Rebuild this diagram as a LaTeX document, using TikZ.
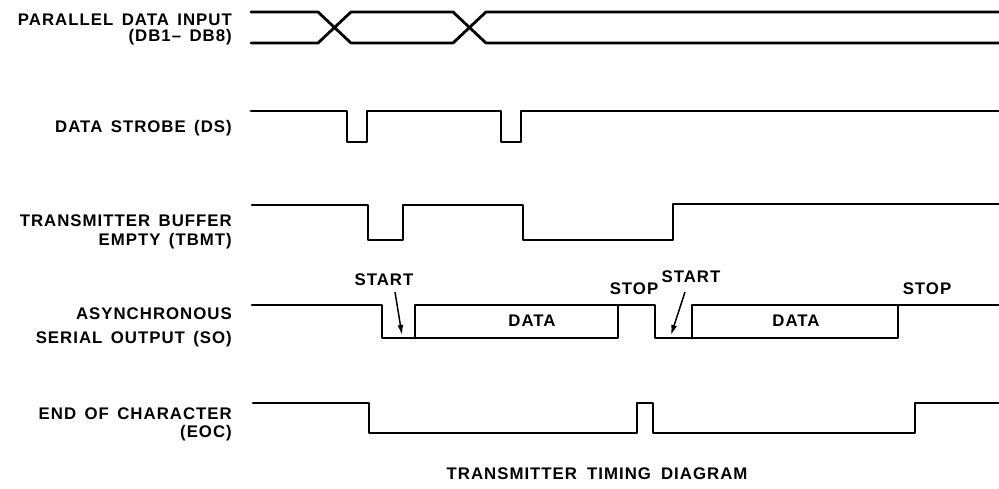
\documentclass[tikz,border=0pt]{standalone}
\usepackage{fontspec}
\setmainfont{Liberation Sans}[LetterSpace=6]
\usetikzlibrary{arrows.meta}
\newcommand\mywidesp{\spaceskip=0.5em\relax}
\newcommand\mytitlesp{\spaceskip=0.6em\relax}
\begin{document}
\begin{tikzpicture}[x=1pt,y=-1pt,
  wave/.style={line width=2.8pt,line join=round,line cap=round},
  lbl/.style={font=\bfseries\fontsize{16.8}{19}\selectfont\mywidesp,inner sep=0pt,anchor=east},
  tag/.style={font=\bfseries\fontsize{16.8}{19}\selectfont,inner sep=0pt},
  arr/.style={line width=1.5pt,-{Latex[length=10pt,width=6pt]}}]
\useasboundingbox (0,0) rectangle (999,489);
% labels
\node[lbl] (l1a) at (232,20) {PARALLEL DATA INPUT};
\node[lbl] (l1b) at (232,37) {(DB1–\ DB8)};
\node[lbl] (l2) at (232,128) {DATA STROBE (DS)};
\node[lbl] (l3a) at (232,221) {TRANSMITTER BUFFER};
\node[lbl] (l3b) at (232,241) {EMPTY (TBMT)};
\node[lbl] (l4a) at (232,314) {ASYNCHRONOUS};
\node[lbl] (l4b) at (232,339) {SERIAL OUTPUT (SO)};
\node[lbl] (l5a) at (232,414) {END OF CHARACTER};
\node[lbl] (l5b) at (232,433) {(EOC)};
\node[tag,font=\bfseries\fontsize{16.8}{19}\selectfont\mytitlesp] (title) at (597,474) {TRANSMITTER TIMING DIAGRAM};
% parallel data input
\draw[wave] (251,12) -- (318,12) -- (351,43) -- (453,43) -- (486,12) -- (999,12);
\draw[wave] (251,43) -- (318,43) -- (351,12) -- (453,12) -- (486,43) -- (999,43);
% data strobe
\draw[wave] (251,111) -- (347,111) -- (347,142) -- (367,142) -- (367,111) -- (501,111) -- (501,142) -- (521,142) -- (521,111) -- (999,111);
% TBMT
\draw[wave] (252,205) -- (368,205) -- (368,240) -- (403,240) -- (403,205) -- (523,205) -- (523,240) -- (673,240) -- (673,204) -- (999,204);
% serial output
\draw[wave] (252,305) -- (382,305) -- (382,338) -- (618,338) -- (618,305) -- (655,305) -- (655,338) -- (898,338) -- (898,305) -- (999,305);
\draw[wave] (415,338) -- (415,305) -- (618,305);
\draw[wave] (692,338) -- (692,305) -- (898,305);
\node[tag] (start1) at (384,280) {START};
\node[tag] (stop1) at (634,289) {STOP};
\node[tag] (start2) at (691,277) {START};
\node[tag] (stop2) at (927,289) {STOP};
\node[tag] (data1) at (532,321) {DATA};
\node[tag] (data2) at (796,321) {DATA};
\coordinate (a1) at (402,335);
\coordinate (a2) at (671,335);
\draw[arr] (395,292) -- (a1);
\draw[arr] (685,292) -- (a2);
% EOC
\draw[wave] (253,403) -- (369,403) -- (369,433) -- (637,433) -- (637,403) -- (653,403) -- (653,433) -- (915,433) -- (915,403) -- (999,403);
\end{tikzpicture}
\end{document}
